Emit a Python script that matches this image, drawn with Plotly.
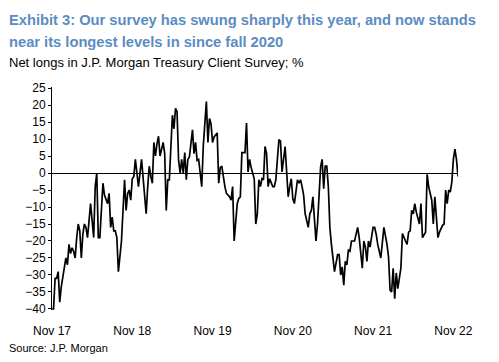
import datetime as dt
import plotly.graph_objects as go

start_date = dt.date(2017, 11, 3)

weeks = [0,1,2,3,4,5,6,8,9,10,11,12,13,14,15,16,17,18,19,20,21,22,23,24,25,26,27,28,29,30,31,33,34,36,37,38,39,40,41,42,43,45,47,48,49,50,51,52,53,54,55,56,58,59,60,61,62,63,64,65,66,67,68,69,70,71,72,73,74,75,76,
         78,79,80,81,82,83,84,85,86,87,88,89,91,92,93,94,95,96,97,98,99,100,101,102,103,104,105,107,108,109,110,111,112,113,115,116,117,118,120,121,122,123,125,126,127,128,129,131,132,133,134,135,136,137,138,139,140,141,142,143,144,145,146,147,148,149,151,152,153,154,155,156,157,158,159,160,161,162,163,164,166,167,168,169,170,171,172,173,174,175,176,177,178,179,
         180,181,182,183,185,186,187,188,189,190,191,192,193,194,195,196,198,199,201,202,203,204,205,206,208,209,210,211,213,215,217,218,219,220,221,222,223,224,226,227,229,230,231,232,233,234,235,236,238,239,240,242,243,244,246,247,248,249,250,251,253,254,255,256,257,258,259,260,261,262,263]

net_longs = [-40,-40,-31,-31,-29,-38,-33.5,-28,-25,-27,-21,-23.7,-22,-23,-25,-19,-15,-17,-25,-18,-15,-16,-19,-14,-9,-14,-19,-4,0,-19,-19,-3,-6.5,-9,-6,-16,-13,-17,-17,-19,-29,-20,-2,-11,-6,-5,-8,-1.7,-1,4,0,-4,4,-1,-6,-12,-4,2,-1,-3,9,5,8.6,10.8,5,7.6,9,5.7,-11,-2,-2,
             17,13,19,18,3.7,0,4,0,6,-2,4,4.7,12.7,5.7,9,3.7,4,0,-4,8,16.5,21,9,16,14.5,9,10.6,11.8,-3,1.6,2,-1.7,-4,-6,-7,-8,-4,-20,-9,-7.5,-7,6,6,14.7,0.3,4,1.6,-1.7,-15,-12,-2,-4,-1.7,-2,7.8,5.7,-4,-1.7,-3,-4,-4,-2,4,9.8,9.4,0.3,7.8,0,-7,-4,-1.7,-7.5,-9,-5.6,-2,-3,-2,-4,-6.5,-12,-16,-12,-11,-7,-14,-20,-15,-4,1.8,4,-4.6,2,2,-4,
             -16,-21,-26,-29,-24,-24,-30,-27.6,-33,-26,-27,-22.7,-23,-20,-20,-20,-16,-19,-28,-20,-21.8,-26,-20,-21.8,-16,-16,-18,-21,-25,-16,-21,-24.7,-34.5,-35,-28,-37,-29.4,-34,-28,-17.8,-20,-21,-17.4,-17,-11,-12,-9,-11.5,-15,-9,-19,-17.4,-0.4,-4,-8,-15,-7,-13,-19,-17.4,-15.4,-15,-5,-9,-5,-5.6,-2.6,4,7,4,-1]

tick_dates = ["2017-11-03", "2018-11-02", "2019-11-01", "2020-10-30", "2021-10-29", "2022-10-28"]
tick_labels = ["Nov 17", "Nov 18", "Nov 19", "Nov 20", "Nov 21", "Nov 22"]
y_ticks = list(range(-40, 30, 5))

title_lines = ["Exhibit 3: Our survey has swung sharply this year, and now stands",
               "near its longest levels in since fall 2020"]
subtitle_text = "Net longs in J.P. Morgan Treasury Client Survey; %"
source_text = "Source: J.P. Morgan"

dates = [start_date + dt.timedelta(days=7 * w) for w in weeks]

fig = go.Figure()
fig.add_trace(go.Scatter(x=dates, y=net_longs, mode="lines",
                         line=dict(color="#000000", width=1.7), hoverinfo="skip"))

font_family = "Liberation Sans, Arial, sans-serif"
# the page places the figure 8px in from the top-left corner of the window
OFF = 8
W, H = 499 - OFF, 362 - OFF
L, R, T, B = 52 - OFF, W - (458 - OFF), 87 - OFF, H - (310 - OFF)
PW, PH = W - L - R, H - T - B


def px_x(x):
    return (x - OFF - L) / PW


def px_y(y):
    return (T + PH - (y - OFF)) / PH


fig.update_layout(
    width=W, height=H,
    margin=dict(l=L, r=R, t=T, b=B, autoexpand=False),
    paper_bgcolor="white", plot_bgcolor="white",
    showlegend=False,
    font=dict(family=font_family, color="#000000", size=12),
    xaxis=dict(range=[dates[0], dates[-1]], tickvals=tick_dates, ticktext=tick_labels,
               showgrid=False, zeroline=False, showline=False,
               ticks="outside", ticklen=10, tickcolor="rgba(0,0,0,0)",
               tickfont=dict(size=12)),
    yaxis=dict(range=[-40.3, 25.3], tickvals=y_ticks, showgrid=False,
               zeroline=True, zerolinecolor="#000000", zerolinewidth=1.3,
               showline=True, linecolor="#000000", linewidth=1,
               ticks="outside", ticklen=3, tickcolor="#000000",
               tickfont=dict(size=12)),
)
for line_text, yc in zip(title_lines, [20, 42]):
    fig.add_annotation(text="<b>" + line_text + "</b>", xref="paper", yref="paper",
                       x=px_x(7), y=px_y(yc), xanchor="left", yanchor="middle",
                       showarrow=False, font=dict(size=14.7, color="#5b8cc2"))
fig.add_annotation(text=subtitle_text, xref="paper", yref="paper",
                   x=px_x(7), y=px_y(63), xanchor="left", yanchor="middle",
                   showarrow=False, font=dict(size=13, color="#000000"))
fig.add_annotation(text=source_text, xref="paper", yref="paper",
                   x=px_x(7), y=px_y(348), xanchor="left", yanchor="middle",
                   showarrow=False, font=dict(size=11, color="#000000"))

fig.write_html("out.html")
